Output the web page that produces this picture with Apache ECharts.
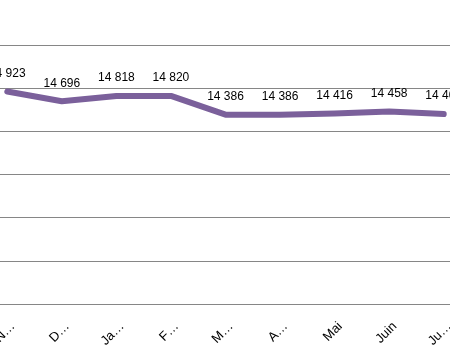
<!DOCTYPE html>
<html>
<head>
<meta charset="utf-8">
<script src="https://cdn.jsdelivr.net/npm/echarts@6/dist/echarts.min.js"></script>
<style>html,body{margin:0;padding:0;background:#fff;overflow:hidden;width:450px;height:363px;position:relative}#c{position:absolute;left:-19.6px;top:0;width:491px;height:363px}</style>
</head>
<body>
<div id="c"></div>
<script>
var categories = ['N…', 'D…', 'Ja…', 'F…', 'M…', 'A…', 'Mai', 'Juin', 'Ju…'];
var values = [14923, 14696, 14818, 14820, 14386, 14386, 14416, 14458, 14401];
var yMin = 10000, yMax = 16000, yStep = 1000;

function fmt(v) { return String(v).replace(/\B(?=(\d{3})+(?!\d))/g, ' '); }

var chart = echarts.init(document.getElementById('c'));
chart.setOption({
  animation: false,
  grid: { left: 0, right: 0, top: 45, bottom: 59, containLabel: false },
  xAxis: {
    type: 'category',
    data: categories,
    boundaryGap: true,
    axisLine: { lineStyle: { color: '#868686', width: 1 } },
    axisTick: { length: 5, lineStyle: { color: '#868686' } },
    axisLabel: { rotate: 45, color: '#000', fontSize: 13, fontFamily: 'Liberation Sans', margin: 26, padding: [0, -8, 0, 0], interval: 0 }
  },
  yAxis: {
    type: 'value',
    min: yMin, max: yMax, interval: yStep,
    axisLabel: { show: false },
    axisLine: { show: false },
    axisTick: { show: false },
    splitLine: { lineStyle: { color: '#868686', width: 1 } }
  },
  series: [{
    type: 'line',
    data: values,
    symbol: 'circle',
    symbolSize: 2,
    showSymbol: true,
    clip: false,
    lineStyle: { color: '#7B609B', width: 6, cap: 'round', join: 'round' },
    itemStyle: { color: '#7B609B' },
    label: {
      show: true, position: 'top', distance: 11,
      color: '#000', fontSize: 12, fontFamily: 'Liberation Sans',
      formatter: function (p) { return fmt(p.value); }
    }
  }]
});
</script>
</body>
</html>
